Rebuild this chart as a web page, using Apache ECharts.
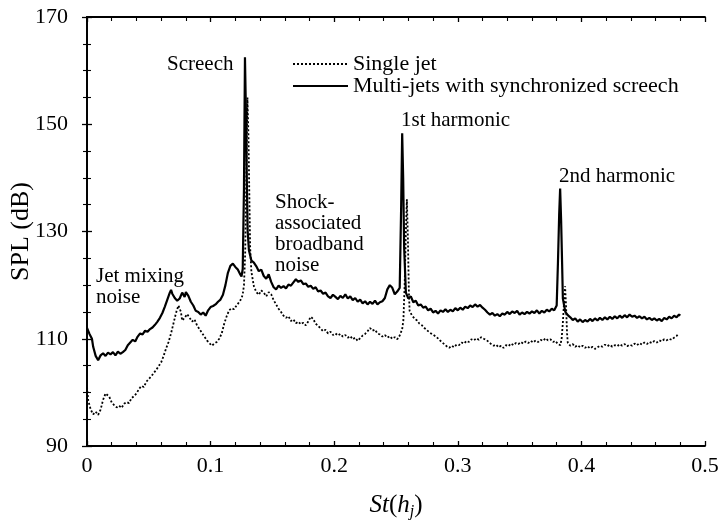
<!DOCTYPE html>
<html>
<head>
<meta charset="utf-8">
<script src="https://cdn.jsdelivr.net/npm/echarts@6/dist/echarts.min.js"></script>
<style>html,body{margin:0;padding:0;background:#fff}#c{width:722px;height:527px}</style>
</head>
<body>
<div id="c"></div>
<script>
// Multi-jets with synchronized screech (solid)
var multiSt = [0.000,0.002,0.004,0.005,0.007,0.009,0.011,0.013,0.015,0.017,0.019,0.021,0.023,0.025,0.027,0.029,0.031,0.033,0.035,0.037,0.039,0.041,0.043,0.045,0.047,0.049,0.051,0.053,0.055,0.057,0.059,0.061,0.063,0.065,0.067,0.068,0.069,0.071,0.073,0.075,0.077,0.079,0.080,0.082,0.084,0.086,0.088,0.090,0.092,0.094,0.096,0.098,0.100,0.102,0.104,0.106,0.108,0.110,0.112,0.114,0.116,0.118,0.120,0.122,0.124,0.125,0.126,0.127,0.1278,0.1286,0.1294,0.130,0.131,0.133,0.135,0.137,0.139,0.141,0.143,0.145,0.147,0.149,0.151,0.153,0.155,0.157,0.159,0.161,0.163,0.165,0.167,0.169,0.171,0.173,0.175,0.177,0.179,0.181,0.183,0.185,0.187,0.189,0.191,0.193,0.195,0.197,0.199,0.201,0.203,0.205,0.207,0.209,0.211,0.213,0.215,0.217,0.219,0.221,0.223,0.225,0.227,0.229,0.231,0.233,0.235,0.237,0.239,0.241,0.243,0.245,0.247,0.249,0.251,0.253,0.2542,0.255,0.2558,0.2566,0.258,0.260,0.262,0.264,0.266,0.268,0.270,0.272,0.274,0.276,0.278,0.280,0.282,0.284,0.286,0.288,0.290,0.292,0.294,0.296,0.298,0.300,0.302,0.304,0.306,0.308,0.310,0.312,0.314,0.316,0.318,0.320,0.322,0.324,0.326,0.328,0.330,0.332,0.334,0.336,0.338,0.340,0.342,0.344,0.346,0.348,0.350,0.352,0.354,0.356,0.358,0.360,0.362,0.364,0.366,0.368,0.370,0.372,0.374,0.376,0.378,0.380,0.381,0.382,0.3828,0.3836,0.3844,0.385,0.387,0.389,0.391,0.393,0.395,0.397,0.399,0.401,0.403,0.405,0.407,0.409,0.411,0.413,0.415,0.417,0.419,0.421,0.423,0.425,0.427,0.429,0.431,0.433,0.435,0.437,0.439,0.441,0.443,0.445,0.447,0.449,0.451,0.453,0.455,0.457,0.459,0.461,0.463,0.465,0.467,0.469,0.471,0.473,0.475,0.477,0.479,0.480];
var multiSPL = [112.0,110.9,110.0,108.5,106.8,106.0,106.9,107.3,106.8,107.4,107.1,107.5,106.9,107.6,107.2,107.5,107.9,108.8,109.3,109.8,109.5,110.4,111.0,110.8,111.5,111.3,111.8,112.1,112.6,113.2,113.9,114.8,116.0,117.3,118.6,119.1,118.4,117.6,117.1,117.5,118.6,117.8,118.7,118.0,116.9,116.2,115.2,115.0,114.5,114.9,114.3,115.3,115.9,116.1,116.4,116.9,117.3,118.2,120.0,122.3,123.6,124.0,123.4,122.9,122.0,121.6,123.0,138.0,162.5,152.0,138.0,130.0,126.5,124.6,124.2,123.5,122.6,122.9,121.7,121.2,122.0,120.6,119.6,119.2,119.9,119.5,119.8,119.4,120.1,119.9,120.5,121.1,120.6,120.9,120.2,120.3,119.7,119.9,119.3,119.6,118.8,119.0,118.4,118.6,117.9,117.6,118.2,117.8,117.4,118.0,117.6,118.3,117.5,117.9,117.2,117.6,116.9,117.3,116.6,117.0,116.4,116.9,116.5,117.1,116.4,116.8,117.0,117.6,119.2,120.0,119.5,118.3,118.8,119.5,135.0,148.3,140.0,127.0,118.6,117.5,117.9,116.8,117.1,116.2,116.4,115.8,116.0,115.3,115.6,114.9,115.2,114.7,115.3,115.0,115.5,115.0,115.4,115.1,115.7,115.3,115.8,115.4,116.0,115.7,116.2,115.9,116.4,116.0,116.3,115.8,115.4,114.9,114.5,114.8,114.3,114.6,114.2,114.7,114.5,115.0,114.6,115.1,114.8,115.2,114.5,114.9,114.6,115.0,114.7,115.1,114.8,115.3,114.7,115.2,114.9,115.4,115.1,115.6,115.3,116.2,124.0,133.0,138.0,132.0,124.0,117.5,115.0,114.4,114.0,113.5,113.8,113.2,113.6,113.1,113.5,113.2,113.7,113.3,113.8,113.4,113.9,113.5,114.0,113.6,114.1,113.7,114.2,113.8,114.3,113.9,114.4,114.0,114.5,114.1,114.3,113.9,114.2,113.8,114.1,113.6,113.9,113.5,113.8,113.4,113.7,113.3,113.9,113.6,114.1,113.8,114.3,114.0,114.5,114.3];

// Single jet (dotted)
var singleSt = [0.000,0.001,0.003,0.005,0.007,0.009,0.011,0.013,0.015,0.016,0.018,0.020,0.022,0.024,0.026,0.028,0.030,0.032,0.034,0.036,0.038,0.040,0.042,0.044,0.046,0.048,0.050,0.052,0.054,0.056,0.058,0.060,0.062,0.064,0.066,0.068,0.070,0.072,0.074,0.075,0.076,0.077,0.079,0.081,0.083,0.085,0.087,0.089,0.091,0.093,0.095,0.097,0.099,0.101,0.103,0.105,0.107,0.109,0.111,0.113,0.115,0.117,0.119,0.121,0.123,0.125,0.126,0.127,0.128,0.129,0.1298,0.1306,0.1314,0.132,0.133,0.135,0.137,0.139,0.141,0.143,0.145,0.147,0.149,0.151,0.153,0.155,0.157,0.159,0.161,0.163,0.165,0.167,0.169,0.171,0.173,0.175,0.177,0.179,0.181,0.183,0.185,0.187,0.189,0.191,0.193,0.195,0.197,0.199,0.201,0.203,0.205,0.207,0.209,0.211,0.213,0.215,0.217,0.219,0.221,0.223,0.225,0.227,0.229,0.231,0.233,0.235,0.237,0.239,0.241,0.243,0.245,0.247,0.249,0.251,0.253,0.255,0.256,0.257,0.258,0.2588,0.2596,0.2604,0.261,0.263,0.265,0.267,0.269,0.271,0.273,0.275,0.277,0.279,0.281,0.283,0.285,0.287,0.289,0.291,0.293,0.295,0.297,0.299,0.301,0.303,0.305,0.307,0.309,0.311,0.313,0.315,0.317,0.319,0.321,0.323,0.325,0.327,0.329,0.331,0.333,0.335,0.337,0.339,0.341,0.343,0.345,0.347,0.349,0.351,0.353,0.355,0.357,0.359,0.361,0.363,0.365,0.367,0.369,0.371,0.373,0.375,0.377,0.379,0.381,0.383,0.384,0.385,0.386,0.3868,0.3876,0.3884,0.389,0.391,0.393,0.395,0.397,0.399,0.401,0.403,0.405,0.407,0.409,0.411,0.413,0.415,0.417,0.419,0.421,0.423,0.425,0.427,0.429,0.431,0.433,0.435,0.437,0.439,0.441,0.443,0.445,0.447,0.449,0.451,0.453,0.455,0.457,0.459,0.461,0.463,0.465,0.467,0.469,0.471,0.473,0.475,0.477,0.478];
var singleSPL = [101.0,98.5,96.8,95.9,96.4,95.8,96.8,98.6,99.8,100.1,99.2,98.1,97.6,97.2,97.5,97.1,97.9,98.2,98.0,98.9,99.3,99.8,100.6,101.2,101.0,102.0,102.5,103.0,103.6,104.2,104.9,105.6,106.8,108.2,109.4,111.0,112.9,114.8,116.2,116.5,115.0,113.4,113.9,114.6,113.9,113.2,113.6,112.5,111.8,111.1,110.4,109.7,109.2,108.7,109.1,109.4,110.0,111.0,112.8,114.2,115.3,115.7,115.5,116.2,116.8,117.5,118.3,120.0,126.0,142.0,155.0,148.0,136.0,127.0,122.5,119.8,118.7,118.2,119.0,118.6,117.9,118.7,118.3,117.2,116.4,115.6,115.0,114.3,113.9,114.2,113.3,113.6,112.9,113.2,112.7,113.0,112.5,113.2,114.1,113.7,112.8,112.4,111.9,111.4,111.7,111.0,111.3,110.7,111.0,110.6,110.9,110.4,110.7,110.2,110.5,109.9,110.2,109.6,110.1,110.6,110.9,111.4,112.0,111.5,111.7,111.0,110.8,110.4,110.7,110.2,110.5,110.0,110.3,109.9,110.6,111.8,113.5,120.0,130.0,136.0,129.0,119.0,115.2,114.3,113.8,113.4,112.8,112.5,112.0,111.6,111.2,110.9,110.6,110.3,109.8,109.4,109.0,108.6,108.3,108.7,108.4,108.9,108.8,109.3,109.1,109.6,109.4,109.9,109.7,110.1,109.8,110.3,110.0,109.8,109.4,109.0,108.7,108.9,108.4,108.7,108.3,108.8,108.6,109.1,108.8,109.2,109.0,109.4,109.1,109.5,109.2,109.6,109.3,109.7,109.4,109.8,109.6,110.1,109.7,109.9,109.4,109.6,109.0,108.8,110.0,113.0,117.0,119.8,116.0,111.0,109.2,108.7,109.0,108.5,108.8,108.4,108.7,108.3,108.6,108.2,108.5,108.1,108.4,108.7,108.5,108.9,108.6,108.9,108.5,108.8,108.6,109.0,108.7,109.0,108.6,108.9,108.7,109.1,108.8,109.2,108.9,109.3,109.0,109.4,109.2,109.6,109.3,109.7,109.5,109.9,109.7,110.0,109.8,110.2,110.5,110.8];

var xTicks = [0, 0.1, 0.2, 0.3, 0.4, 0.5];
var yTicks = [90, 110, 130, 150, 170];

function zip(a, b) { return a.map(function (v, i) { return [v, b[i]]; }); }

var FONT = 'Liberation Serif';
var chart = echarts.init(document.getElementById('c'), null, { renderer: 'canvas' });

var axisCommon = {
  axisLine: { show: true, lineStyle: { color: '#000', width: 1.8 } },
  axisTick: { show: true, inside: true, length: 5, lineStyle: { color: '#000', width: 1.3 } },
  splitLine: { show: false }
};

var option = {
  animation: false,
  backgroundColor: '#fff',
  grid: { left: 87, right: 17, top: 17, bottom: 81, containLabel: false, outerBoundsMode: 'none' },
  xAxis: [
    Object.assign({}, axisCommon, {
      type: 'value', min: xTicks[0], max: xTicks[xTicks.length - 1], interval: 0.1,
      minorTick: { show: true, splitNumber: 5, length: 4, lineStyle: { color: '#000', width: 1.1 } },
      axisLabel: { color: '#000', fontFamily: FONT, fontSize: 22, margin: 9,
        formatter: function (v) { return String(Math.round(v * 10) / 10); } },
      name: '{i|St}{n|(}{i|h}{s|j}{n|)}', nameLocation: 'middle', nameGap: 44,
      nameTextStyle: { color: '#000', rich: {
        i: { fontFamily: FONT, fontStyle: 'italic', fontSize: 25, color: '#000' },
        n: { fontFamily: FONT, fontSize: 25, color: '#000' },
        s: { fontFamily: FONT, fontStyle: 'italic', fontSize: 16, color: '#000', padding: [14, 0, 0, 0] }
      } }
    }),
    Object.assign({}, axisCommon, {
      type: 'value', position: 'top', min: xTicks[0], max: xTicks[xTicks.length - 1], interval: 0.1,
      minorTick: { show: true, splitNumber: 5, length: 4, lineStyle: { color: '#000', width: 1.1 } },
      axisLabel: { show: false }
    })
  ],
  yAxis: [
    Object.assign({}, axisCommon, {
      type: 'value', min: yTicks[0], max: yTicks[yTicks.length - 1], interval: 20,
      minorTick: { show: true, splitNumber: 4, length: 4, lineStyle: { color: '#000', width: 1.1 } },
      axisLabel: { color: '#000', fontFamily: FONT, fontSize: 22, margin: 19 },
      name: 'SPL (dB)', nameLocation: 'middle', nameGap: 53, nameMoveOverlap: false,
      nameTextStyle: { color: '#000', fontFamily: FONT, fontSize: 26 }
    }),
    Object.assign({}, axisCommon, {
      type: 'value', position: 'right', min: yTicks[0], max: yTicks[yTicks.length - 1], interval: 20,
      minorTick: { show: true, splitNumber: 4, length: 4, lineStyle: { color: '#000', width: 1.1 } },
      axisLabel: { show: false }
    })
  ],
  legend: {
    orient: 'vertical', left: 287, top: 48, itemWidth: 55, itemHeight: 14, itemGap: 0,
    itemStyle: { opacity: 0 },
    textStyle: { color: '#000', fontFamily: FONT, fontSize: 22, lineHeight: 22 },
    data: ['Single jet', 'Multi-jets with synchronized screech']
  },
  series: [
    {
      name: 'Single jet', type: 'line', xAxisIndex: 0, yAxisIndex: 0,
      data: zip(singleSt, singleSPL), symbol: 'none', showSymbol: false,
      lineStyle: { color: '#000', width: 1.8, type: [2, 2] }, itemStyle: { color: '#000' }, z: 2
    },
    {
      name: 'Multi-jets with synchronized screech', type: 'line', xAxisIndex: 0, yAxisIndex: 0,
      data: zip(multiSt, multiSPL), symbol: 'none', showSymbol: false,
      lineStyle: { color: '#000', width: 2.2 }, itemStyle: { color: '#000' }, z: 3
    }
  ],
  graphic: [
    { type: 'text', left: 167, top: 54, style: { text: 'Screech', font: '21px "Liberation Serif"', fill: '#000' } },
    { type: 'text', left: 96, top: 266, style: { text: 'Jet mixing\nnoise', font: '21px "Liberation Serif"', fill: '#000', lineHeight: 21 } },
    { type: 'text', left: 275, top: 192, style: { text: 'Shock-\nassociated\nbroadband\nnoise', font: '21px "Liberation Serif"', fill: '#000', lineHeight: 21 } },
    { type: 'text', left: 401, top: 110, style: { text: '1st harmonic', font: '21px "Liberation Serif"', fill: '#000' } },
    { type: 'text', left: 559, top: 166, style: { text: '2nd harmonic', font: '21px "Liberation Serif"', fill: '#000' } }
  ]
};
chart.setOption(option);
</script>
</body>
</html>
